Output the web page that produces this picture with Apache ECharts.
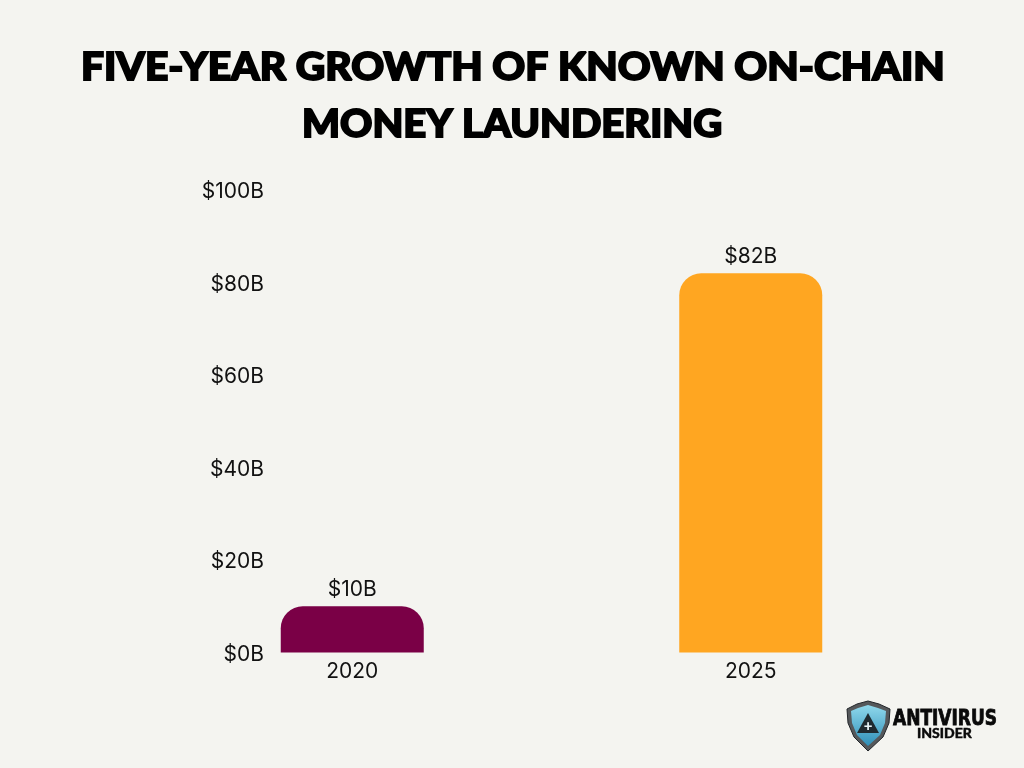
<!DOCTYPE html>
<html>
<head>
<meta charset="utf-8">
<style>html,body{margin:0;padding:0;background:#f4f4f0}#c{width:1024px;height:768px}</style>
<script src="https://cdn.jsdelivr.net/npm/echarts@6/dist/echarts.min.js"></script>
</head>
<body>
<div id="c"></div>
<script>
const categories = ['2020', '2025'];
const values = [10, 82];
const barColors = ['#7a0046', '#ffa621'];
const titleLines = ['FIVE-YEAR GROWTH OF KNOWN ON-CHAIN', 'MONEY LAUNDERING'];

const chart = echarts.init(document.getElementById('c'), null, {renderer: 'canvas'});
const sans = 'Inter';
const titleText = (text, x, y, scaleX) => ({
  type: 'text', x, y, scaleX,
  style: {text, x: 0, y: 0, font: '900 37px Lato', fill: '#000', stroke: '#000', lineWidth: 1.8, verticalAlign: 'top'}
});
chart.setOption({
  backgroundColor: '#f4f4f0',
  animation: false,
  grid: {left: 153, right: 74, top: 190, bottom: 115.5},
  xAxis: {
    type: 'category', data: categories,
    axisLine: {show: false}, axisTick: {show: false},
    axisLabel: {fontFamily: sans, fontSize: 21, color: '#111', margin: 9}
  },
  yAxis: {
    type: 'value', min: 0, max: 100, interval: 20,
    splitLine: {show: false}, axisLine: {show: false}, axisTick: {show: false},
    axisLabel: {
      margin: -111,
      formatter: v => '{a|$' + v + 'B}',
      rich: {a: {fontFamily: sans, fontSize: 21, color: '#111', padding: [4, 0, 0, 0]}}
    }
  },
  series: [{
    type: 'bar', barWidth: 143,
    data: values.map((v, i) => ({value: v, itemStyle: {color: barColors[i]}})),
    itemStyle: {borderRadius: [22, 22, 0, 0]},
    label: {show: true, position: 'top', distance: 6, fontFamily: sans, fontSize: 21, color: '#111', formatter: p => '$' + p.value + 'B'}
  }],
  graphic: [
    titleText(titleLines[0], 81, 50, 1.1),
    titleText(titleLines[1], 302, 107, 1.08),
    {
      type: 'group', x: 847, y: 701,
      children: [
        {type: 'polygon', shape: {points: [[21, 0], [32, 3], [43, 8], [42, 22], [36, 36], [21, 50], [7, 36], [1, 22], [0, 8], [10, 3]]}, style: {fill: '#55585b', stroke: '#22262a', lineWidth: 1}},
        {type: 'polygon', shape: {points: [[21, 4], [31, 7], [39, 10], [38, 22], [33, 34], [21, 45], [10, 34], [5, 22], [4, 10], [11, 7]]},
          style: {fill: new echarts.graphic.LinearGradient(0, 0, 0, 1, [{offset: 0, color: '#8fd8ec'}, {offset: 1, color: '#2f8fb8'}])}},
        {type: 'polygon', shape: {points: [[21, 12], [32, 32], [10, 32]]}, style: {fill: '#1f2a30'}},
        {type: 'text', style: {text: '+', x: 21, y: 25, font: '900 15px Lato', fill: '#e8f4f8', align: 'center', verticalAlign: 'middle'}},
        {type: 'text', x: 46, y: 18, scaleX: 0.86, style: {text: 'ANTIVIRUS', x: 0, y: 0, font: '900 22px "DejaVu Sans Condensed", Lato', fill: '#0a0a0a', stroke: '#0a0a0a', lineWidth: 0.8, verticalAlign: 'middle'}},
        {type: 'text', style: {text: 'INSIDER', x: 70, y: 32, font: '900 14px Lato', fill: '#0a0a0a', stroke: '#0a0a0a', lineWidth: 0.4, verticalAlign: 'middle'}}
      ]
    }
  ]
});
</script>
</body>
</html>
